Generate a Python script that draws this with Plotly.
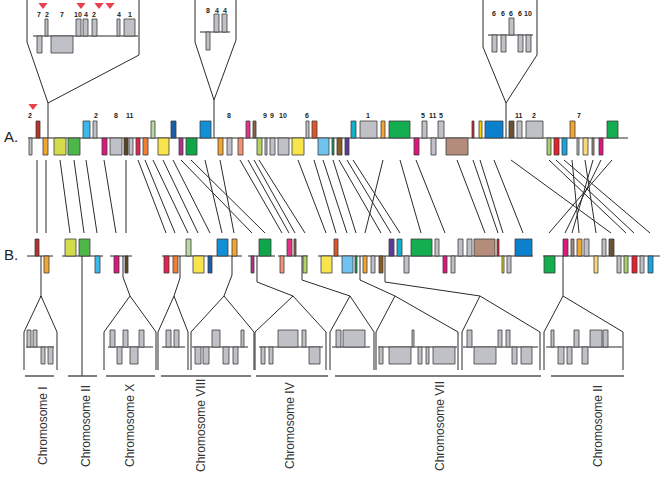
import plotly.graph_objects as go

# ---------------- data ----------------
PAL = {
    "grey": "#c0c1c7", "darkred": "#b8312b", "orange": "#f2a632", "ygreen": "#d5dc4b",
    "green": "#4db849", "lblue": "#3bb9ea", "magenta": "#e2157f", "dbrown": "#5b4426",
    "crimson": "#e8224f", "orange2": "#f47f32", "lgreen": "#b9d9a1", "yellow": "#f8e54d",
    "purpmag": "#b02f8e", "green2": "#0fa64b", "dblue": "#1a5eab", "blue": "#1190d8",
    "salmon": "#f29373", "pink": "#e43289", "brownthin": "#8f5f45", "lime": "#b3d463",
    "orangered": "#e0552a", "lightblue2": "#70c3ef", "greenthin": "#10a152",
    "brown2": "#8c5b22", "purple": "#5b3c9a", "cyan": "#13b0c9", "green3": "#14ad4f",
    "tan": "#b38c7b", "red": "#e21f26", "yel2": "#f2d600", "blue2": "#0b80cc",
    "dbrown2": "#6b5236", "lgreen2": "#a9d06f", "red2": "#e8202a", "cyan2": "#1aa3df",
    "lyellow": "#fad97b", "greybrown": "#a48a7b",
}

# Row A genes: start, end, strand (+1 above line / -1 below), colour name
A_start = [29, 36, 43, 54, 68, 83, 93, 102, 110, 124, 129, 136, 143, 151, 158, 171, 179, 186, 200,
           218, 227, 238, 246, 253, 257, 265, 270, 278, 292, 306, 312, 318, 332, 337, 345, 351, 360,
           381, 389, 414, 422, 431, 438, 446, 472, 479, 485, 509, 517, 526, 547, 554, 562, 570, 577,
           583, 592, 599, 607]
A_end = [32, 40, 48, 66, 80, 90, 97, 107, 122, 128, 133, 140, 148, 155, 169, 176, 183, 197, 211,
         223, 232, 243, 250, 256, 262, 267, 275, 289, 304, 309, 317, 329, 334, 342, 349, 356, 377,
         385, 410, 419, 427, 436, 444, 468, 474, 482, 503, 514, 522, 543, 551, 559, 567, 575, 579,
         588, 594, 603, 618]
A_strand = [-1, 1, -1, -1, -1, 1, 1, -1, -1, -1, -1, -1, -1, 1, -1, 1, -1, -1, 1,
            -1, -1, -1, 1, 1, -1, -1, -1, -1, -1, 1, 1, -1, -1, -1, -1, 1, 1,
            1, 1, -1, 1, -1, 1, -1, 1, 1, 1, 1, 1, 1, -1, -1, -1, 1, -1,
            -1, -1, -1, 1]
A_color = ["grey", "darkred", "orange", "ygreen", "green", "lblue", "grey", "magenta", "grey", "dbrown",
           "grey", "crimson", "orange2", "lgreen", "yellow", "dblue", "purpmag", "green2", "blue",
           "orange", "grey", "salmon", "pink", "brownthin", "lime", "grey", "grey", "grey", "yellow",
           "grey", "orangered", "lightblue2", "greenthin", "brown2", "purple", "cyan", "grey",
           "orange", "green3", "magenta", "grey", "grey", "grey", "tan", "red", "yel2", "blue2",
           "dbrown2", "grey", "grey", "lgreen2", "red2", "cyan2", "orange", "grey", "lyellow",
           "greybrown", "magenta", "green3"]
A_labels = ["2", "2", "8", "11", "8", "9", "9", "10", "6", "1", "5", "11", "5", "11", "2", "7"]
A_label_x = [30, 96, 116, 130, 229, 265, 272, 283, 307, 368, 423, 433, 441, 519, 534, 579]

# Row B segments and genes
B_seg_start = [27, 62, 110, 162, 248, 278, 318, 543]
B_seg_end = [53, 103, 132, 242, 275, 308, 533, 660]
B_start = [35, 44, 65, 79, 95, 114, 125, 164, 173, 186, 193, 208, 217, 232, 251, 259, 280, 287, 294,
           303, 321, 334, 342, 355, 363, 371, 379, 389, 397, 404, 411, 435, 443, 451, 458, 467,
           474, 497, 502, 507, 515, 544, 563, 571, 577, 584, 594, 602, 609, 617, 624, 632, 640, 648]
B_end = [39, 49, 76, 90, 100, 119, 128, 169, 178, 191, 204, 212, 228, 237, 254, 271, 284, 292, 296,
         307, 332, 338, 353, 357, 367, 375, 383, 394, 402, 409, 432, 439, 447, 455, 463, 472,
         495, 499, 504, 511, 532, 555, 568, 574, 582, 589, 598, 606, 614, 621, 628, 637, 644, 653]
B_strand = [1, -1, 1, 1, -1, -1, -1, -1, -1, 1, -1, -1, 1, 1, -1, 1, -1, 1, 1,
            -1, -1, 1, -1, -1, -1, -1, -1, 1, 1, -1, 1, 1, -1, -1, 1, 1,
            1, 1, -1, -1, 1, -1, 1, 1, 1, 1, -1, 1, 1, -1, -1, -1, -1, -1]
B_color = ["darkred", "orange", "ygreen", "green", "lblue", "magenta", "dbrown", "crimson", "orange2",
           "lgreen", "yellow", "dblue", "blue", "orange", "purpmag", "green2", "salmon", "pink",
           "brownthin", "lime", "yellow", "orangered", "lightblue2", "greenthin", "orange", "grey",
           "brown2", "purple", "cyan", "grey", "green3", "grey", "magenta", "grey", "grey", "grey",
           "tan", "red", "yel2", "grey", "blue2", "green3", "magenta", "greybrown", "orange", "grey",
           "lyellow", "grey", "dbrown2", "grey", "lgreen2", "red2", "grey", "cyan2"]

# Orthologous links between row A and row B (gene positions)
link_A = [37, 46, 60, 74, 86, 104, 126, 138, 145, 153, 163, 173, 181, 191, 205, 220, 240, 248, 254,
          259, 298, 314, 323, 333, 339, 347, 353, 383, 400, 416, 457, 473, 480, 494, 511, 549, 556,
          564, 572, 585, 593, 601, 612]
link_B = [37, 46, 70, 84, 97, 116, 126, 166, 175, 188, 198, 210, 252, 265, 222, 234, 282, 289, 295,
          305, 326, 336, 347, 356, 381, 391, 400, 365, 421, 445, 485, 498, 503, 523, 611, 626, 634,
          650, 579, 596, 572, 565, 549]

# Top insets (zoomed regions of row A)
ins_top_base = [36, 32, 35]
ins_top_line = [(33, 138), (200, 230), (488, 533)]
ins_top_genes = [
    [(37, 42, -1), (45, 48, 1), (51, 73, -1), (76, 81, 1), (83, 88, 1), (92, 97, 1), (117, 120, 1), (124, 135, 1)],
    [(206, 210, -1), (214, 219, 1), (222, 227, 1)],
    [(492, 497, -1), (501, 506, -1), (509, 514, 1), (518, 523, -1), (526, 531, -1)],
]
ins_top_labels = [
    [("7", 39), ("2", 47), ("7", 62), ("10", 78), ("4", 86), ("2", 94), ("4", 119), ("1", 130)],
    [("8", 208), ("4", 217), ("4", 225)],
    [("6", 494), ("6", 503), ("6", 511), ("6", 520), ("10", 528)],
]
ins_top_label_y = [14, 10, 13]
ins_top_left = [27, 195, 483]
ins_top_right = [139, 236, 537]
ins_top_stem = [48, 214, 506]
ins_top_stem_y = [103, 100, 103]
marker_x = [43, 81, 99, 110, 33]
marker_y = [5, 5, 5, 5, 106]

# Bottom insets (houses)
house_left = [24, 104, 158, 191, 255, 330, 376, 462, 544]
house_right = [57, 156, 188, 254, 326, 374, 458, 540, 623]
house_apex = [41, 130, 174, 224, 293, 350, 395, 480, 563]
house_line = [(26, 54), (108, 153), (162, 185), (192, 248), (259, 323), (332, 370), (378, 457), (463, 538), (546, 622)]
house_genes = [
    [(27, 31, 1), (33, 37, 1), (41, 45, -1), (48, 53, -1)],
    [(110, 115, 1), (123, 128, 1), (139, 144, 1), (117, 122, -1), (130, 138, -1)],
    [(166, 171, 1), (174, 179, 1)],
    [(212, 220, 1), (241, 244, 1), (195, 201, -1), (203, 209, -1), (223, 229, -1), (233, 238, -1)],
    [(278, 298, 1), (302, 306, 1), (261, 265, -1), (269, 273, -1), (309, 320, -1)],
    [(336, 341, 1), (343, 365, 1)],
    [(412, 414, 1), (379, 383, -1), (389, 411, -1), (418, 422, -1), (426, 429, -1), (433, 455, -1)],
    [(467, 472, 1), (498, 502, 1), (506, 510, 1), (474, 496, -1), (512, 517, -1), (521, 532, -1)],
    [(551, 554, 1), (574, 579, 1), (590, 602, 1), (603, 608, 1), (558, 564, -1), (567, 572, -1), (582, 588, -1)],
]
# feeder lines from row B to the houses: x on B and where the line bends
feed_B = [41, 123, 180, 232, 257, 302, 360, 385, 563]
feed_bend = [297, 277, 278, 275, 282, 280, 280, 282, 296]

chrom_names = ["Chromosome I", "Chromosome II", "Chromosome X", "Chromosome VIII",
               "Chromosome IV", "Chromosome VII", "Chromosome II"]
chrom_start = [25, 68, 106, 161, 256, 335, 551]
chrom_end = [54, 97, 155, 251, 328, 541, 624]
chrom_label_x = [43, 86, 130, 201, 290, 440, 598]

# ---------------- drawing ----------------
Y_A, Y_B, H = 138, 256, 17
LINE = dict(color="#2b2b2b", width=1)
EDGE = dict(color="#3c3c3c", width=0.8)
shapes = []


def seg(x0, y0, x1, y1, line=LINE):
    shapes.append(dict(type="line", xref="x", yref="y", x0=x0, y0=y0, x1=x1, y1=y1, line=line))


def poly(pts):
    for (a, b), (c, d) in zip(pts[:-1], pts[1:]):
        seg(a, b, c, d)


def gene(x0, x1, strand, base, color, h=H):
    y0, y1 = (base - h, base) if strand > 0 else (base, base + h)
    shapes.append(dict(type="rect", xref="x", yref="y", x0=x0, x1=x1, y0=y0, y1=y1,
                       fillcolor=PAL[color], line=EDGE))


# links between rows
for a, b in zip(link_A, link_B):
    seg(a, 160, b, 233)

# top insets
for i in range(3):
    l, r = ins_top_line[i]
    seg(l, ins_top_base[i], r, ins_top_base[i])
    for g in ins_top_genes[i]:
        gene(g[0], g[1], g[2], ins_top_base[i], "grey", 17 if i != 1 else 18)
    sx, sy = ins_top_stem[i], ins_top_stem_y[i]
    poly([(ins_top_left[i], 0), (ins_top_left[i], 42 if i != 2 else 47), (sx, sy)])
    poly([(ins_top_right[i], 0), (ins_top_right[i], 40 if i == 1 else 55), (sx, sy)])
    seg(sx, sy, sx, Y_A)

# row A
seg(28, Y_A, 628, Y_A)
for s, e, st, c in zip(A_start, A_end, A_strand, A_color):
    gene(s, e, st, Y_A, c)

# row B
for s, e in zip(B_seg_start, B_seg_end):
    seg(s, Y_B, e, Y_B)
for s, e, st, c in zip(B_start, B_end, B_strand, B_color):
    gene(s, e, st, Y_B, c)

# feeders and houses
APEX_Y, EAVE_Y, FOOT_Y, BASE_C = 296, 332, 370, 347
for i in range(len(house_left)):
    bx, by = feed_B[i], feed_bend[i]
    poly([(bx, Y_B), (bx, by), (house_apex[i], APEX_Y)])
    poly([(house_left[i], FOOT_Y), (house_left[i], EAVE_Y), (house_apex[i], APEX_Y),
          (house_right[i], EAVE_Y), (house_right[i], FOOT_Y)])
    l, r = house_line[i]
    seg(l, BASE_C, r, BASE_C)
    for g in house_genes[i]:
        gene(g[0], g[1], g[2], BASE_C, "grey")
# Chromosome II stem
seg(82, Y_B, 82, 376)
for s, e in zip(chrom_start, chrom_end):
    seg(s, 376, e, 376, dict(color="#555555", width=1.5))

fig = go.Figure()
fig.add_trace(go.Scatter(x=marker_x, y=marker_y, mode="markers", hoverinfo="skip",
                         marker=dict(symbol="triangle-down", size=8, color="#e8404c")))

ann = []
for i, labs in enumerate(ins_top_labels):
    for t, x in labs:
        ann.append(dict(x=x, y=ins_top_label_y[i], text="<b>%s</b>" % t, showarrow=False,
                        font=dict(size=7, family="Liberation Sans", color="#222")))
for t, x in zip(A_labels, A_label_x):
    ann.append(dict(x=x, y=115, text="<b>%s</b>" % t, showarrow=False,
                    font=dict(size=7, family="Liberation Sans", color="#222")))
ann.append(dict(x=11, y=Y_A - 2, text="A.", showarrow=False,
                font=dict(size=15, family="Liberation Sans", color="#222")))
ann.append(dict(x=11, y=Y_B - 2, text="B.", showarrow=False,
                font=dict(size=15, family="Liberation Sans", color="#222")))
for t, x in zip(chrom_names, chrom_label_x):
    ann.append(dict(x=x, y=426, text=t, textangle=-90, showarrow=False,
                    font=dict(size=12, family="Liberation Sans", color="#333")))

fig.update_layout(
    width=661, height=479, margin=dict(l=0, r=0, t=0, b=0),
    paper_bgcolor="white", plot_bgcolor="white", showlegend=False,
    xaxis=dict(range=[0, 661], visible=False, fixedrange=True),
    yaxis=dict(range=[479, 0], visible=False, fixedrange=True),
    shapes=shapes, annotations=ann,
)
fig.write_html("out.html", config={"displayModeBar": False},
               post_script="document.body.style.margin='0';document.body.style.overflow='hidden';")
